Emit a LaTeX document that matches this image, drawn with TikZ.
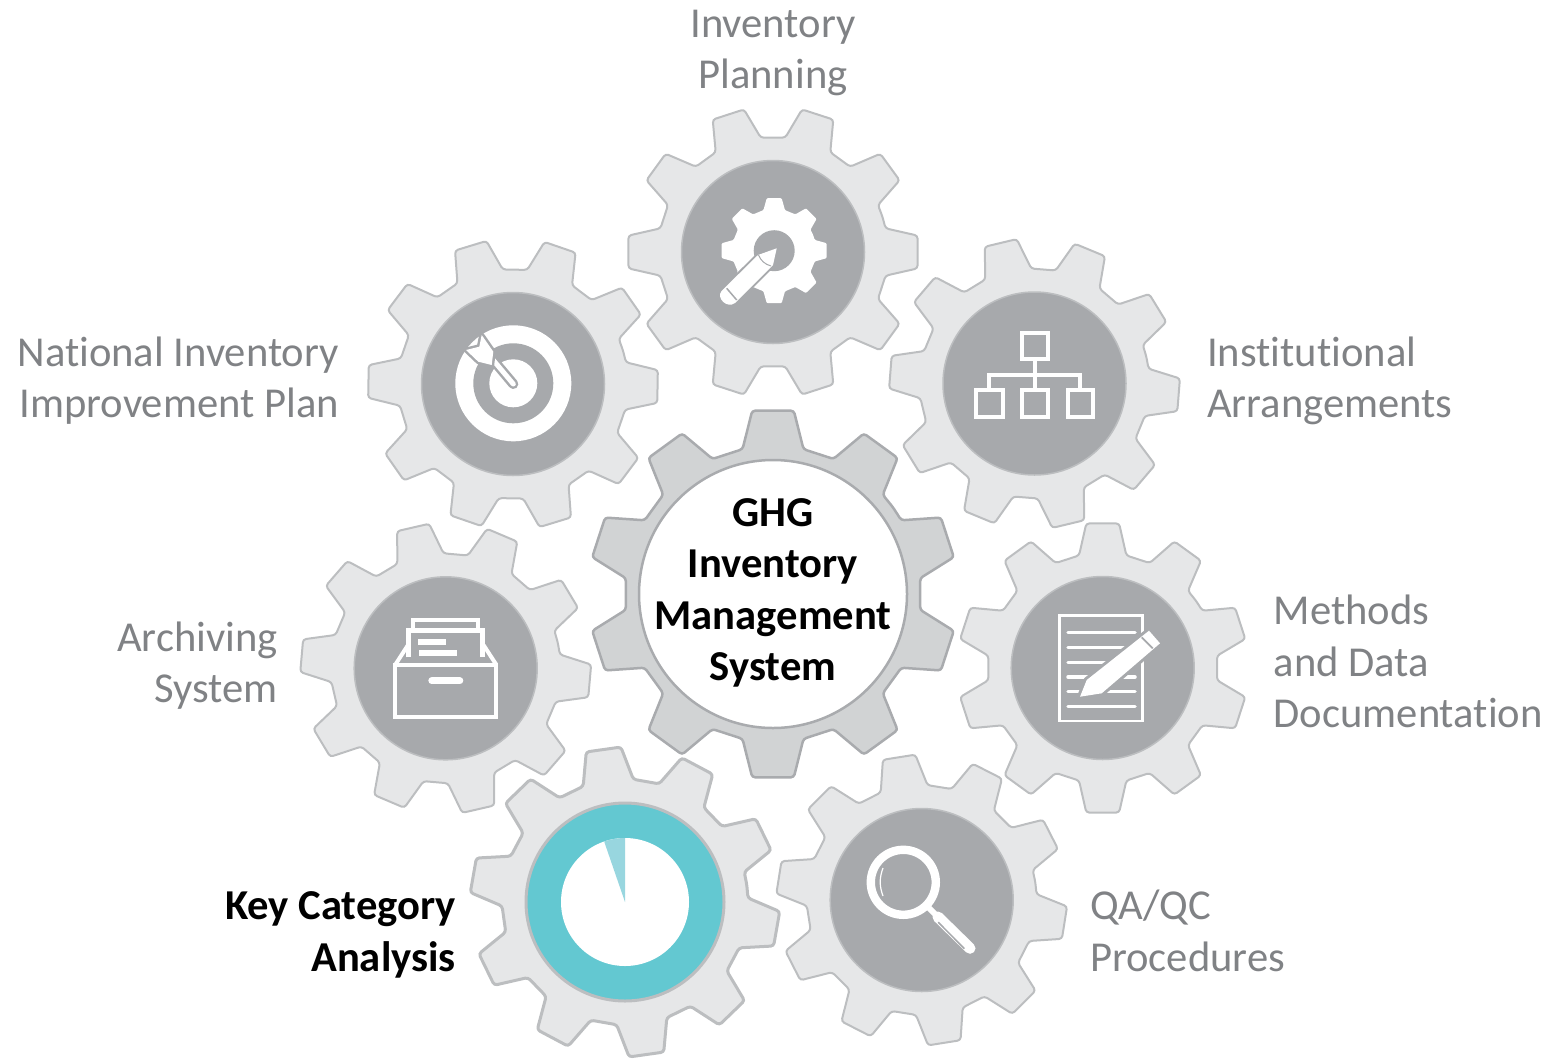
\documentclass[tikz,border=0pt]{standalone}
\usepackage{fontspec}
\setmainfont[Ligatures=NoCommon]{Carlito}
\usepackage{tikz}
\def\gearwheel[#1](#2)(#3:#4:#5:#6){\pgfmathsetmacro\gearstep{360/#4}
	\draw[#1,shift={(#2)}] ({-(#3)-0.5*\gearstep}:#6)
	\foreach \k [evaluate=\k as \a using -(#3)-\k*\gearstep] in {1,...,#4} {
		-- ({\a+0.33*\gearstep}:#6) -- ({\a+0.18*\gearstep}:#5) -- ({\a-0.18*\gearstep}:#5) -- ({\a-0.33*\gearstep}:#6)
	} -- cycle;}
\definecolor{gearfill}{HTML}{E6E7E8}
\definecolor{gearline}{HTML}{BCBEC0}
\definecolor{midfill}{HTML}{D1D3D4}
\definecolor{midline}{HTML}{A9ABAE}
\definecolor{dialgrey}{HTML}{A7A9AC}
\definecolor{labelgrey}{HTML}{808285}
\definecolor{dialteal}{HTML}{63C8D1}
\definecolor{sliceteal}{HTML}{98D6DF}
\tikzset{
	smallgear/.style={fill=gearfill,draw=gearline,line width=2bp,rounded corners=3bp},
	hubgear/.style={fill=midfill,draw=midline,line width=2.5bp,rounded corners=3bp},
	dial/.style={fill=dialgrey,draw=gearline,line width=1.5bp},
	iconline/.style={draw=white,line width=4bp},
	halo/.style={draw=dialgrey,line width=5bp,line join=round},
	label/.style={text=labelgrey,inner sep=0pt,font=\fontsize{42.6bp}{51.4bp}\selectfont},
	boldlabel/.style={text=black,inner sep=0pt,font=\fontsize{42.6bp}{51.4bp}\selectfont\bfseries}
}

\begin{document}
\begin{tikzpicture}[x=1bp,y=-1bp]
	%%%%% START %%%%%
	\useasboundingbox (0, 0) rectangle (1547, 1058);

	\gearwheel[smallgear](773, 252)(0:10:145.5:115);
	\gearwheel[smallgear](513, 384)(-1:10:145.5:115);
	\gearwheel[smallgear](1034.5, 383.5)(-4.5:10:145.5:115);
	\gearwheel[smallgear](445.7, 668.3)(-5:10:145.5:115);
	\gearwheel[smallgear](1102.7, 668)(18:10:145.5:115);
	\gearwheel[smallgear](921.7, 900)(-9:10:145.5:115);
	\gearwheel[smallgear,line width=3bp](625, 902)(-10:10:155:123);
	\gearwheel[hubgear](773, 594)(18:10:184.5:148);

	\draw[dial] (773, 252) circle (91.5);
	\draw[dial] (513, 384) circle (91.5);
	\draw[dial] (1034.5, 383.5) circle (91.5);
	\draw[dial] (445.7, 668.3) circle (91.5);
	\draw[dial] (1102.7, 668) circle (91.5);
	\draw[dial] (921.7, 900) circle (91.5);
	\draw[fill=white,draw=midline,line width=2.5bp] (773, 594) circle (134);

	% planning icon
	\gearwheel[fill=white,draw=none,rounded corners=1bp](774.2, 250.7)(0:8:53:42);
	\draw[fill=dialgrey,draw=none] (774.2, 250.7) circle (20.5);
	\draw[halo,line width=4bp] (776.7, 248.3) -- (758, 255) -- (721.5, 291)
		.. controls (716, 298) and (727, 309) .. (735, 303) -- (773, 265) -- cycle;
	\fill[white] (776.7, 248.3) -- (758, 255) -- (721.5, 291)
		.. controls (716, 298) and (727, 309) .. (735, 303) -- (773, 265) -- cycle;
	\draw[dialgrey,line width=1bp] (758.5, 255) to[bend right=25] (771, 266);
	\draw[dialgrey,line width=1.5bp] (726.7, 288.3) -- (736.7, 300);

	% target icon
	\draw[fill=white,draw=none] (513.3, 383.3) circle (58);
	\draw[fill=dialgrey,draw=none] (513.3, 383.3) circle (40);
	\draw[fill=white,draw=none] (513.3, 383.3) circle (24);
	\draw[dialgrey,line width=10bp,line cap=round] (491.7, 358.3) -- (513.3, 384);
	\draw[white,line width=5bp,line cap=round] (491.7, 358.3) -- (513.3, 384);
	\draw[halo] (493.3, 351.7) -- (481.7, 335) -- (479.3, 346.7) -- (466, 350) -- (478.3, 361.7) -- (491.7, 365) -- cycle;
	\fill[white] (493.3, 351.7) -- (481.7, 335) -- (479.3, 346.7) -- (466, 350) -- (478.3, 361.7) -- (491.7, 365) -- cycle;

	% institution icon
	\draw[iconline] (1021.5, 332.5) rectangle (1047.5, 358.5);
	\draw[iconline] (975.8, 389.8) rectangle (1002.5, 416.5);
	\draw[iconline] (1021.5, 389.8) rectangle (1047.5, 416.5);
	\draw[iconline] (1067.5, 389.8) rectangle (1093.2, 416.5);
	\draw[iconline] (1034.5, 358.5) -- (1034.5, 389.8);
	\draw[iconline] (989, 389.8) -- (989, 375) -- (1080.3, 375) -- (1080.3, 389.8);

	% archive icon
	\draw[iconline] (413.3, 630.3) -- (413.3, 619.7) -- (478.3, 619.7) -- (478.3, 630.3);
	\draw[iconline,line width=4.5bp] (408.3, 657.3) -- (408.3, 630.3) -- (482.7, 630.3) -- (482.7, 657.3);
	\draw[iconline] (395.3, 664.7) -- (408, 645);
	\draw[iconline] (496.3, 664.7) -- (483.5, 645);
	\draw[iconline] (395.3, 664.7) rectangle (496.3, 717.3);
	\draw[iconline,line width=5.7bp] (418.3, 642.2) -- (446, 642.2);
	\draw[iconline,line width=5.7bp] (419, 652.9) -- (457.3, 652.9);
	\draw[iconline,line width=7bp,line cap=round] (431.8, 680.8) -- (459.8, 680.8);

	% methods icon
	\draw[iconline,line width=2.7bp] (1059.7, 615.3) rectangle (1142.7, 721);
	\foreach \y in {632.3, 647.3, 662.3, 677, 691.7, 706.3}
		\draw[iconline,line width=3.5bp,line cap=round] (1068, \y) -- (1135, \y);
	\draw[halo,line width=6bp] (1080, 696.7) -- (1086.7, 680) -- (1149, 630.7) -- (1160, 643.3) -- (1101.7, 693.3) -- cycle;
	\fill[white] (1080, 696.7) -- (1086.7, 680) -- (1149, 630.7) -- (1160, 643.3) -- (1101.7, 693.3) -- cycle;
	\draw[dialgrey,line width=1.8bp] (1141.7, 637.3) -- (1152.7, 648.3);

	% lens icon
	\draw[white,line width=8.4bp] (903.3, 882.3) circle (32.5);
	\draw[white,line width=1.2bp] (883, 868) to[bend right=20] (883, 896);
	\draw[white,line width=6bp] (927, 906) -- (938, 917);
	\draw[white,line width=11bp,line cap=round] (938, 917) -- (970, 948.3);
	\draw[dialgrey,line width=1.5bp,line cap=round] (938.3, 922.3) -- (964, 948.3);

	% key category dial
	\draw[fill=dialteal,draw=gearline,line width=3bp] (625, 902) circle (99);
	\draw[fill=white,draw=none] (625, 902) circle (64);
	\draw[fill=sliceteal,draw=none] (625, 902) -- (625, 838) arc (-90:-109:64) -- cycle;

	\node[label,align=center] (planninglabel) at (773, 53) {Inventory\\Planning};
	\node[label,align=right,anchor=east] (improvelabel) at (339, 380.5) {National Inventory\\Improvement Plan};
	\node[label,align=left,anchor=west] (arrangelabel) at (1207, 381) {Institutional\\Arrangements};
	\node[label,align=right,anchor=east] (archivelabel) at (278, 665.5) {Archiving\\System};
	\node[label,align=left,anchor=west] (methodslabel) at (1273.5, 661.5) {Methods\\and Data\\Documentation};
	\node[label,align=left,anchor=west] (qualitylabel) at (1090, 931) {QA/QC\\Procedures};
	\node[boldlabel,align=right,anchor=east] (keylabel) at (456, 935) {Key Category\\Analysis};
	\node[boldlabel,align=center] (hublabel) at (773, 593) {GHG\\Inventory\\Management\\System};
	%%%%% END %%%%%
\end{tikzpicture}
\end{document}
